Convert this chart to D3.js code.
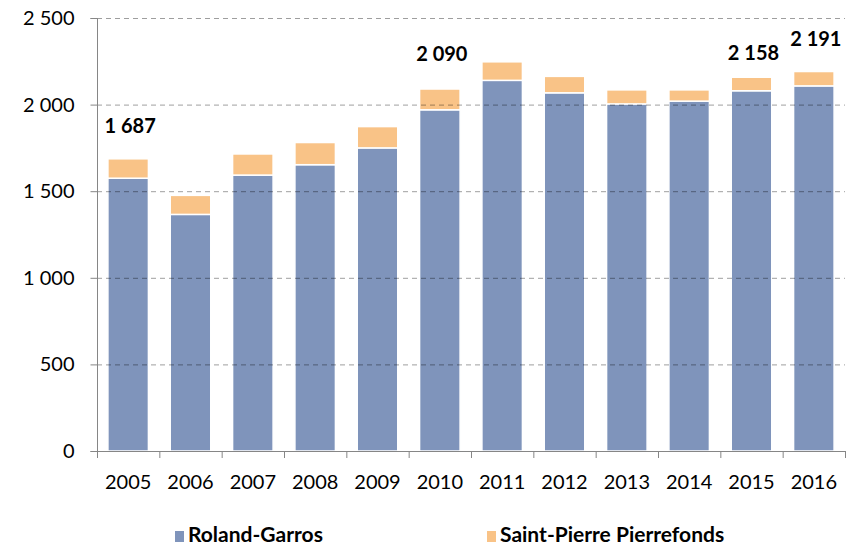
<!DOCTYPE html>
<html><head><meta charset="utf-8">
<script src="https://cdn.jsdelivr.net/npm/d3@7"></script>
<style>body{margin:0;background:#fff}svg{display:block}</style>
</head><body>
<svg id="c" width="855" height="548"></svg>
<script>
const years = ["2005","2006","2007","2008","2009","2010","2011","2012","2013","2014","2015","2016"];
const rolandGarros = [1575,1366,1593,1653,1750,1970,2140,2068,2004,2020,2080,2108];
const saintPierre  = [112,110,122,128,123,120,107,95,81,65,78,83];
const seriesNames = ["Roland-Garros","Saint-Pierre Pierrefonds"];
const yTicks = [0,500,1000,1500,2000,2500];
const labelled = {"2005":1687,"2010":2090,"2015":2158,"2016":2191};

const colors = ["#7f94bb","#f9c387"];
const fr = d3.formatLocale({decimal:",",thousands:"\u00a0",grouping:[3]});
const fmt = fr.format(",d");

const svg = d3.select("#c");
const m = {l:97, r:10, t:18, b:97};
const W = 855, H = 548;
const x = d3.scaleBand().domain(years).range([m.l, W-m.r]).paddingInner(0.35).paddingOuter(0.175);
const y = d3.scaleLinear().domain([0,2500]).range([H-m.b, m.t]);
const font = "Lato, 'Open Sans', sans-serif";

const stackData = years.map((yr,i)=>({year:yr, rg:rolandGarros[i], sp:saintPierre[i]}));
const stack = d3.stack().keys(["rg","sp"])(stackData);

const g = svg.append("g");
stack.forEach((s,si)=>{
  g.selectAll(null).data(s).enter().append("rect")
    .attr("x", d=>x(d.data.year))
    .attr("width", x.bandwidth())
    .attr("y", d=>y(d[1]))
    .attr("height", d=>y(d[0])-y(d[1]))
    .attr("fill", colors[si])
    .attr("stroke","#fff").attr("stroke-width",1.5);
});

// gridlines (drawn over bars)
svg.append("g").selectAll("line").data(yTicks.filter(t=>t>0)).enter().append("line")
  .attr("x1", m.l).attr("x2", W-m.r)
  .attr("y1", d=>y(d)+0.5).attr("y2", d=>y(d)+0.5)
  .attr("stroke","#000").attr("stroke-opacity",0.38).attr("stroke-width",1)
  .attr("stroke-dasharray","5,4");

// y axis
const ya = svg.append("g").attr("transform",`translate(${m.l+0.5},0)`)
  .call(d3.axisLeft(y).tickValues(yTicks).tickFormat(fmt).tickSize(7).tickPadding(16));
ya.selectAll("line,path").attr("stroke","#868686");
ya.select(".domain").attr("d", `M-7,${y(2500)+0.5}H0V${y(0)+0.5}H-7`);
ya.selectAll("text").attr("font-family",font).attr("font-size",20).attr("fill","#000");

// x axis
const xa = svg.append("g").attr("transform",`translate(0,${y(0)+0.5})`)
  .call(d3.axisBottom(x).tickSize(0).tickPadding(23));
xa.select(".domain").attr("stroke","#868686").attr("d",`M${m.l},0H${W-m.r}`);
xa.selectAll("text").attr("font-family",font).attr("font-size",20).attr("fill","#000");
const step = x.step();
svg.append("g").selectAll("line").data(d3.range(years.length+1)).enter().append("line")
  .attr("x1", i=>m.l+0.5+i*step).attr("x2", i=>m.l+0.5+i*step)
  .attr("y1", y(0)).attr("y2", y(0)+7)
  .attr("stroke","#868686");

// data labels
const lift = {"2005":33,"2010":35,"2015":24,"2016":33};
svg.append("g").selectAll("text").data(Object.keys(labelled)).enter().append("text")
  .attr("x", d=>x(d)+x.bandwidth()/2+2)
  .attr("y", d=>y(labelled[d]) - lift[d] + 7)
  .attr("text-anchor","middle")
  .attr("font-family",font).attr("font-weight","bold").attr("font-size",20)
  .text(d=>fmt(labelled[d]));

// legend
const legX = [175, 487];
const lg = svg.append("g");
seriesNames.forEach((n,i)=>{
  lg.append("rect").attr("x",legX[i]).attr("y",531).attr("width",9).attr("height",11).attr("fill",colors[i]);
  lg.append("text").attr("x",legX[i]+13).attr("y",542)
    .attr("font-family",font).attr("font-weight","bold").attr("font-size",21).text(n);
});
</script>
</body></html>
